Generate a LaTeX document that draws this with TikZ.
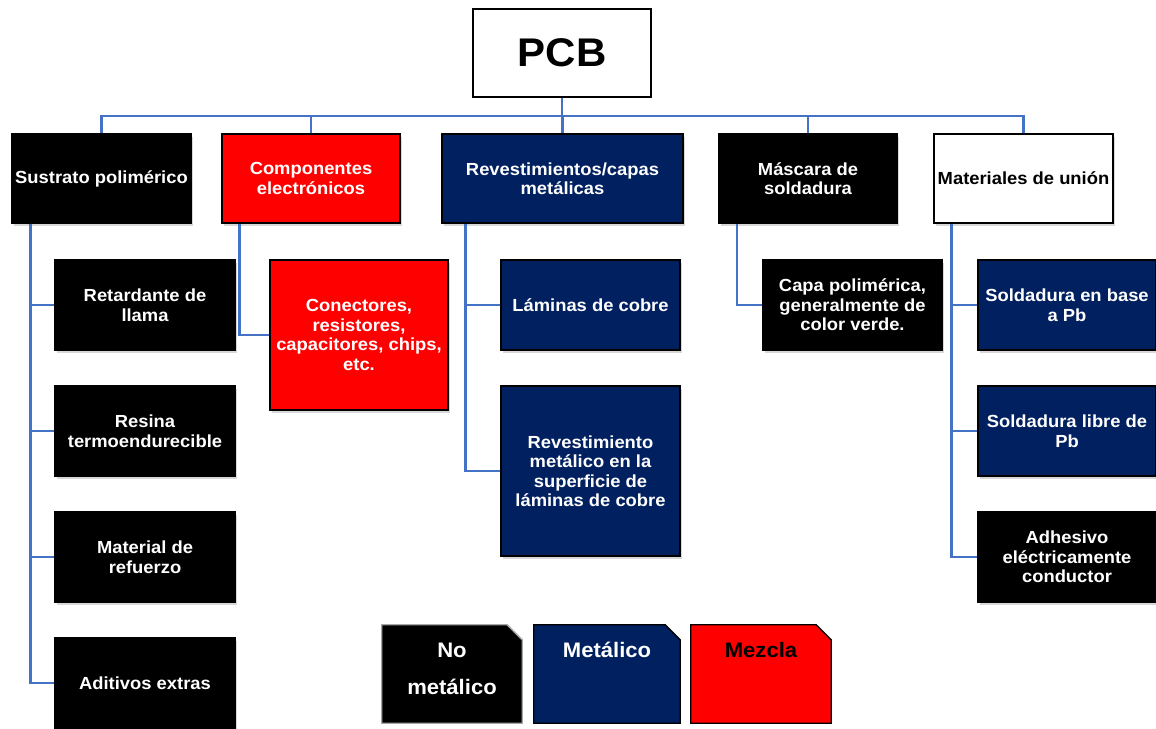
\documentclass[tikz,border=0pt]{standalone}
\usepackage{fontspec}
\setmainfont{Liberation Sans}[FakeStretch=1.05]
\usetikzlibrary{shadows}
\definecolor{navy}{HTML}{002060}
\definecolor{redbox}{HTML}{FF0000}
\definecolor{linkblue}{HTML}{4472C4}
\tikzset{
  box/.style={rectangle, inner sep=0pt, align=center, line width=1.3pt,
    font=\fontsize{17.5}{19.5}\selectfont\bfseries,
    drop shadow={shadow xshift=2pt, shadow yshift=-3pt, opacity=0.3}},
  blackbox/.style={box, fill=black, draw=black, text=white},
  navybox/.style={box, fill=navy, draw=black, text=white},
  redbx/.style={box, fill=redbox, draw=black, text=white},
  whitebox/.style={box, fill=white, draw=black, text=black},
  topw/.style={minimum height=89pt},
  subw/.style={minimum width=180pt, minimum height=90pt},
  conn/.style={draw=linkblue, line width=2.4pt},
  legframe/.style={rectangle, inner sep=0pt, minimum height=98pt},
  legsnip/.style={line width=1.3pt, line join=miter},
  legtext/.style={font=\fontsize{21}{24}\selectfont\bfseries, inner sep=0pt}
}
% legend tile with its top right corner cut off
\newcommand{\snippedtile}[2]{%
  \draw[legsnip, #2] (#1.south west) -- (#1.north west)
    -- ([xshift=-15pt]#1.north east) -- ([yshift=-15pt]#1.north east)
    -- (#1.south east) -- cycle;}
\begin{document}
\begin{tikzpicture}[x=1pt,y=-1pt]
\useasboundingbox[fill=white] (0,0) rectangle (1156,728);

% root
\node[rectangle, draw=black, fill=white, line width=1.5pt, minimum width=178pt,
  minimum height=88pt, font=\fontsize{40}{44}\selectfont\bfseries] (pcb) at (562,53) {PCB};

% first level
\node[blackbox, topw, minimum width=179pt] (sus) at (101.5,178.5) {Sustrato polimérico};
\node[redbx, topw, minimum width=178pt] (com) at (311,178.5) {Componentes\\electrónicos};
\node[navybox, topw, minimum width=241pt] (rev) at (562.5,178.5) {Revestimientos/capas\\metálicas};
\node[blackbox, topw, minimum width=178pt] (mas) at (808,178.5) {Máscara de\\soldadura};
\node[whitebox, topw, minimum width=179pt] (mat) at (1023.5,178.5) {Materiales de unión};

% polymer substrate
\node[blackbox, subw] (ret) at (145,305) {Retardante de\\llama};
\node[blackbox, subw] (res) at (145,431) {Resina\\termoendurecible};
\node[blackbox, subw] (ref) at (145,557) {Material de\\refuerzo};
\node[blackbox, subw] (adi) at (145,683) {Aditivos extras};

% electronic components
\node[redbx, minimum width=178pt, minimum height=150pt] (con) at (359,335)
  {Conectores,\\resistores,\\capacitores, chips,\\etc.};

% metallic coatings
\node[navybox, subw, minimum width=179pt] (lam) at (590.5,305) {Láminas de cobre};
\node[navybox, minimum width=179pt, minimum height=170pt] (rmet) at (590.5,471)
  {Revestimiento\\metálico en la\\superficie de\\láminas de cobre};

% solder mask
\node[blackbox, subw, minimum width=179pt] (cap) at (852.5,305)
  {Capa polimérica,\\generalmente de\\color verde.};

% joining materials
\node[navybox, subw, minimum width=178pt] (sba) at (1067,305) {Soldadura en base\\a Pb};
\node[navybox, subw, minimum width=178pt] (slp) at (1067,431) {Soldadura libre de\\Pb};
\node[blackbox, subw, minimum width=178pt] (adh) at (1067,557) {Adhesivo\\eléctricamente\\conductor};

% tree connectors
\coordinate (bus) at (0,116);
\foreach \n in {sus,com,rev,mas,mat}
  \draw[conn] (pcb.south) -- (pcb.south |- bus) -| (\n.north);

\foreach \c in {ret,res,ref,adi}
  \draw[conn] ([xshift=19pt]sus.south west) |- (\c.west);
\draw[conn] ([xshift=18pt]com.south west) |- (con.west);
\foreach \c in {lam,rmet}
  \draw[conn] ([xshift=24pt]rev.south west) |- (\c.west);
\draw[conn] ([xshift=18.5pt]mas.south west) |- (cap.west);
\foreach \c in {sba,slp,adh}
  \draw[conn] ([xshift=18pt]mat.south west) |- (\c.west);

% legend
\node[legframe, minimum width=140pt] (lgno) at (452,674) {};
\node[legframe, minimum width=146pt] (lgme) at (607,674) {};
\node[legframe, minimum width=140pt] (lgmz) at (761,674) {};
\snippedtile{lgno}{fill=black, draw=gray!70}
\snippedtile{lgme}{fill=navy, draw=black}
\snippedtile{lgmz}{fill=redbox, draw=black}
\node[legtext, text=white] (lgnoa) at (452,650) {No};
\node[legtext, text=white] (lgnob) at (452,687) {metálico};
\node[legtext, text=white] (lgmet) at (607,650) {Metálico};
\node[legtext, text=black] (lgmez) at (761,650) {Mezcla};
\end{tikzpicture}
\end{document}
